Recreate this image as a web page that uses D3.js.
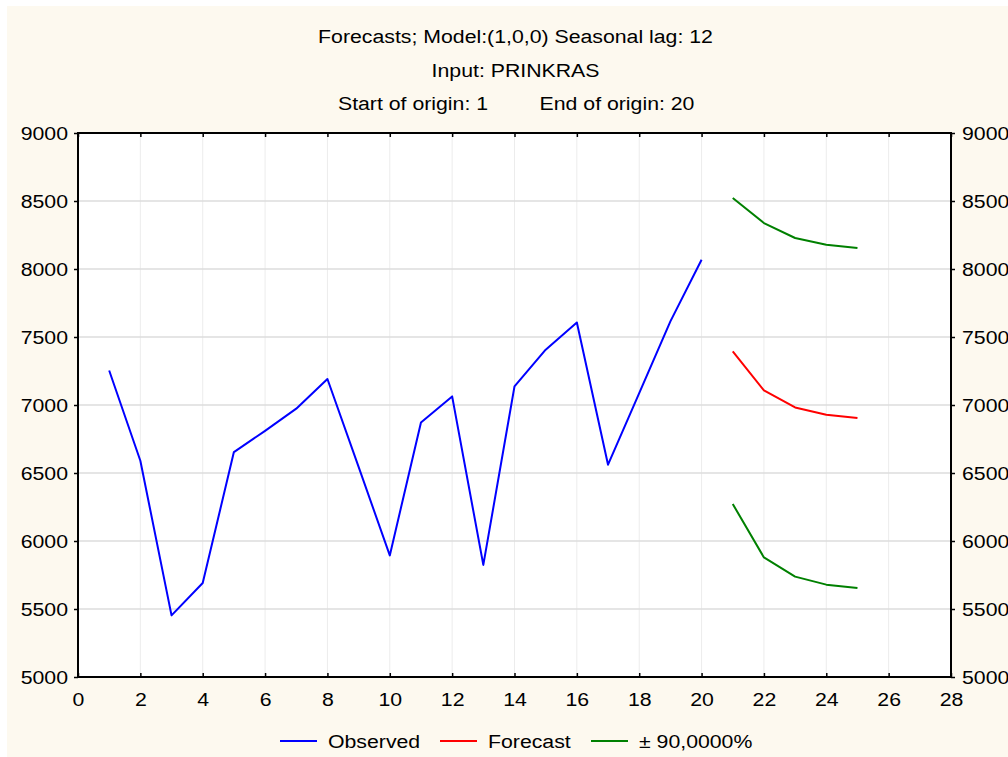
<!DOCTYPE html>
<html>
<head>
<meta charset="utf-8">
<title>Forecasts</title>
<script src="https://cdn.jsdelivr.net/npm/d3@7/dist/d3.min.js"></script>
<style>
    html, body {
        margin: 0;
        padding: 0;
        background: #fff;
    }
    svg text {
        font-family: "Liberation Sans", Arial, sans-serif;
        fill: #000;
    }
</style>
</head>
<body>
<div id="chart"></div>
<script>
    // values
    const observedT = d3.range(1, 21);
    const observed = [7254, 6590, 5453, 5691, 6654, 6810, 6973, 7191, 6545, 5894,
                      6872, 7063, 5824, 7137, 7407, 7607, 6561, 7088, 7615, 8068];
    const forecastT = [21, 22, 23, 24, 25];
    const forecast = [7394, 7107, 6982, 6929, 6904];
    const upper90 = [8522, 8338, 8228, 8179, 8154];
    const lower90 = [6272, 5879, 5738, 5679, 5654];

    const xTicks = d3.range(0, 29, 2);
    const yTicks = d3.range(5000, 9001, 500);
    const titleLines = ["Forecasts; Model:(1,0,0) Seasonal lag: 12", "Input: PRINKRAS"];
    const originLabels = ["Start of origin: 1", "End of origin: 20"];
    const legendNames = ["Observed", "Forecast", "\u00b1 90,0000%"];
    const legendColors = ["#0000ff", "#ff0000", "#008000"];

    const width = 1008, height = 757;
    const plotLeft = 78, plotRight = 951, plotTop = 133, plotBottom = 677;
    const stretch = 1.12; // the original font renders a bit wide
    const fontSize = 19;

    const x = d3.scaleLinear([0, 28], [plotLeft, plotRight]);
    const y = d3.scaleLinear([5000, 9000], [plotBottom, plotTop]);

    const svg = d3.select("#chart").append("svg")
            .attr("width", width)
            .attr("height", height)
            .style("display", "block");

    svg.append("rect")
            .attr("x", 7).attr("y", 6)
            .attr("width", width - 7).attr("height", height - 6)
            .attr("fill", "#fdf9ef");

    svg.append("rect")
            .attr("x", plotLeft).attr("y", plotTop)
            .attr("width", plotRight - plotLeft).attr("height", plotBottom - plotTop)
            .attr("fill", "#fff");

    // grid
    svg.append("g")
            .selectAll("line")
            .data(xTicks.slice(1, -1))
            .join("line")
            .attr("x1", d => x(d)).attr("x2", d => x(d))
            .attr("y1", plotTop).attr("y2", plotBottom)
            .attr("stroke", "#ececec");
    svg.append("g")
            .selectAll("line")
            .data(yTicks.slice(1, -1))
            .join("line")
            .attr("x1", plotLeft).attr("x2", plotRight)
            .attr("y1", d => y(d)).attr("y2", d => y(d))
            .attr("stroke", "#dcdcdc")
            .attr("stroke-width", 1.3);

    function styleAxis(g, anchorX) {
        g.select(".domain").remove();
        g.selectAll(".tick line").attr("stroke", "#000").attr("stroke-width", 1.5);
        g.selectAll(".tick text")
                .attr("font-size", fontSize)
                .attr("transform", `scale(${stretch},1)`);
        if (anchorX !== undefined) g.selectAll(".tick text").attr("x", anchorX / stretch);
    }

    svg.append("g")
            .attr("transform", `translate(${plotLeft},0)`)
            .call(d3.axisLeft(y).tickValues(yTicks).tickFormat(d3.format("d")).tickSize(4))
            .call(g => g.attr("font-family", null).attr("font-size", null))
            .call(g => styleAxis(g, -10))
            .call(g => g.selectAll(".tick text").attr("dy", "0.36em"));

    svg.append("g")
            .attr("transform", `translate(${plotRight},0)`)
            .call(d3.axisRight(y).tickValues(yTicks).tickFormat(d3.format("d")).tickSize(4))
            .call(g => g.attr("font-family", null).attr("font-size", null))
            .call(g => styleAxis(g, 11))
            .call(g => g.selectAll(".tick text").attr("dy", "0.36em"));

    svg.append("g")
            .attr("transform", `translate(0,${plotBottom})`)
            .call(d3.axisBottom(x).tickValues(xTicks).tickSize(-4).tickPadding(0))
            .call(g => g.attr("font-family", null).attr("font-size", null))
            .call(g => styleAxis(g))
            .call(g => g.selectAll(".tick text").attr("y", 29).attr("dy", null));

    svg.append("g")
            .attr("transform", `translate(0,${plotTop})`)
            .call(d3.axisTop(x).tickValues(xTicks).tickSize(-4).tickFormat(() => ""))
            .call(g => styleAxis(g));

    // frame
    svg.append("rect")
            .attr("x", plotLeft).attr("y", plotTop)
            .attr("width", plotRight - plotLeft).attr("height", plotBottom - plotTop)
            .attr("fill", "none")
            .attr("stroke", "#000")
            .attr("stroke-width", 2);

    // series
    const line = d3.line().x(d => x(d[0])).y(d => y(d[1]));
    const series = [
        {values: d3.zip(observedT, observed), color: legendColors[0]},
        {values: d3.zip(forecastT, forecast), color: legendColors[1]},
        {values: d3.zip(forecastT, upper90), color: legendColors[2]},
        {values: d3.zip(forecastT, lower90), color: legendColors[2]},
    ];
    svg.append("g")
            .selectAll("path")
            .data(series)
            .join("path")
            .attr("d", d => line(d.values))
            .attr("fill", "none")
            .attr("stroke", d => d.color)
            .attr("stroke-width", 2)
            .attr("stroke-linejoin", "round");

    // titles
    const cx = (plotLeft + plotRight) / 2 + 1;
    svg.append("g")
            .selectAll("text")
            .data(titleLines)
            .join("text")
            .attr("transform", (d, i) => `translate(${cx},${43 + i * 33.5}) scale(${stretch},1)`)
            .attr("text-anchor", "middle")
            .attr("font-size", fontSize)
            .text(d => d);
    svg.append("g")
            .selectAll("text")
            .data(originLabels)
            .join("text")
            .attr("transform", (d, i) => `translate(${[413, 617][i]},110) scale(${stretch},1)`)
            .attr("text-anchor", "middle")
            .attr("font-size", fontSize)
            .text(d => d);

    // legend
    const legendX = [280, 440, 591];
    const legend = svg.append("g")
            .selectAll("g")
            .data(legendNames)
            .join("g")
            .attr("transform", (d, i) => `translate(${legendX[i]},741)`);
    legend.append("line")
            .attr("x1", 0).attr("x2", 37)
            .attr("stroke", (d, i) => legendColors[i])
            .attr("stroke-width", 2);
    legend.append("text")
            .attr("transform", `translate(48,7) scale(${stretch},1)`)
            .attr("font-size", fontSize)
            .text(d => d);
</script>
</body>
</html>
